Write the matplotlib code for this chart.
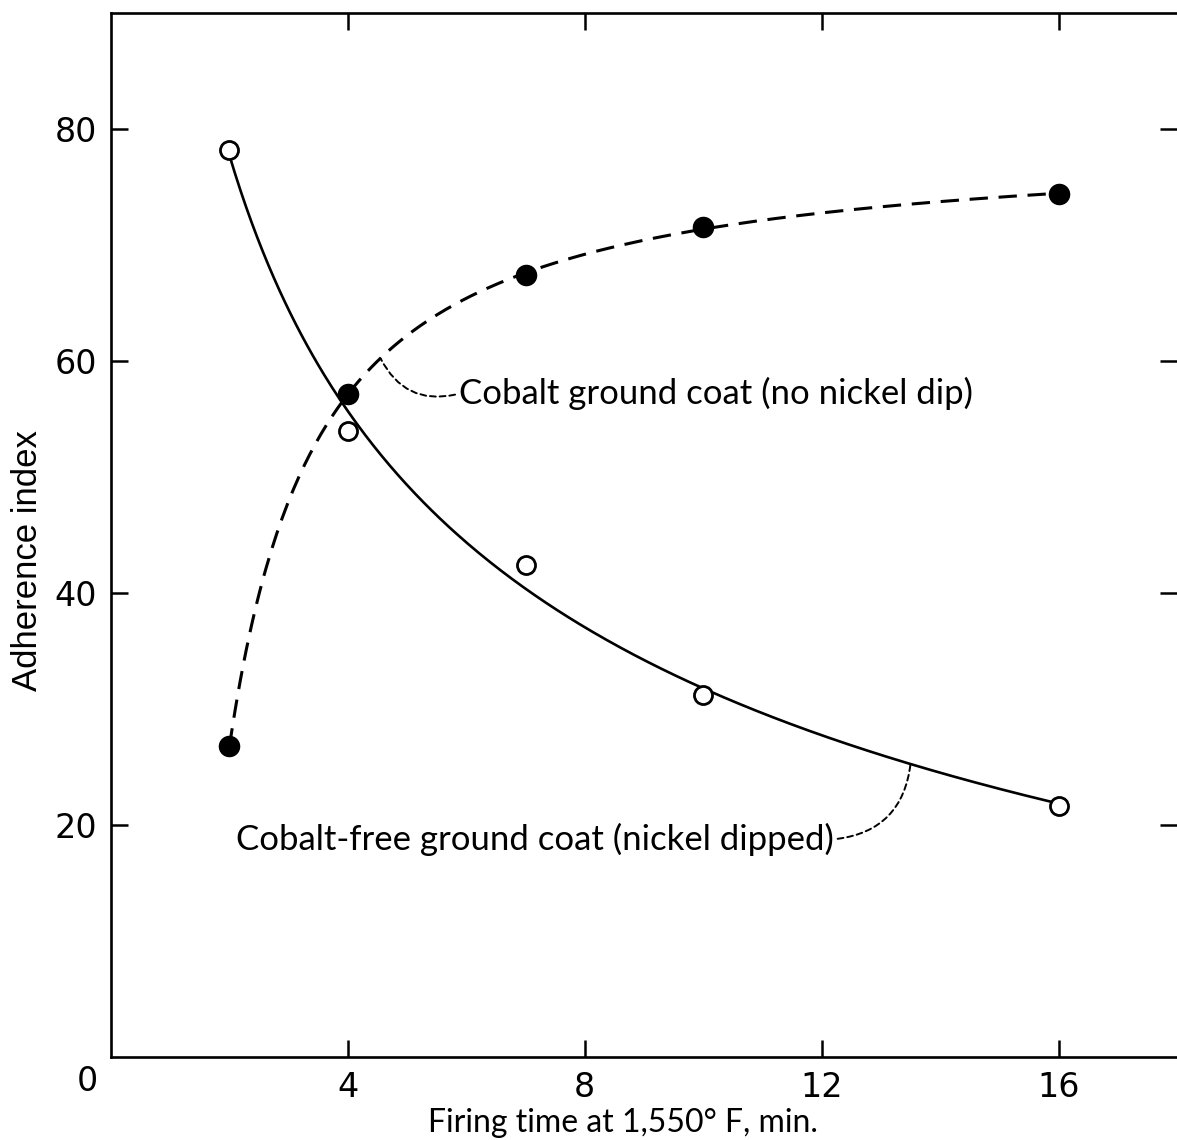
import matplotlib
matplotlib.use("Agg")
import matplotlib.pyplot as plt
import numpy as np

# Adherence index vs firing time
time_min = [2, 4, 7, 10, 16]
cobalt_free = [78.2, 54.0, 42.4, 31.2, 21.7]   # open circles, nickel dipped
cobalt = [26.8, 57.2, 67.4, 71.6, 74.4]        # filled circles, no nickel dip

label_font = ['Lato', 'DejaVu Sans']

fig = plt.figure(figsize=(11.77, 11.40), dpi=100)
ax = fig.add_axes([0.0943, 0.0724, 0.9057, 0.9162])

# smooth guide curves fitted to the points
xs = np.linspace(min(time_min), max(time_min), 300)
c1 = np.polyfit(np.log(time_min), cobalt_free, 2)
c2 = np.polyfit(1.0 / np.array(time_min), cobalt, 2)
free_fit = lambda x: np.polyval(c1, np.log(x))
cob_fit = lambda x: np.polyval(c2, 1.0 / np.asarray(x))

ax.plot(xs, free_fit(xs), color='black', lw=1.9, zorder=2)
ax.plot(xs, cob_fit(xs), color='black', lw=2.2, ls=(0, (6, 3.5)), zorder=2)

ax.plot(time_min, cobalt_free, 'o', ms=13, mfc='white', mec='black', mew=2, zorder=3)
ax.plot(time_min, cobalt, 'o', ms=14.5, color='black', zorder=3)

leader = dict(arrowstyle='-', color='black', lw=1.4, ls=(0, (3, 2)))
x1 = 4.55
ax.annotate('Cobalt ground coat (no nickel dip)', xy=(x1, float(cob_fit(x1))),
            xytext=(5.88, 57.2), fontsize=25, family=label_font,
            ha='left', va='center',
            arrowprops=dict(connectionstyle='arc3,rad=-0.4', relpos=(0, 0.5),
                            shrinkA=1, shrinkB=0, **leader))
x2 = 13.5
ax.annotate('Cobalt-free ground coat (nickel dipped)', xy=(x2, float(free_fit(x2))),
            xytext=(12.2, 18.8), fontsize=25, family=label_font,
            ha='right', va='center',
            arrowprops=dict(connectionstyle='arc3,rad=0.4', relpos=(1, 0.5),
                            shrinkA=1, shrinkB=0, **leader))

ax.set_xlim(0, 18)
ax.set_ylim(0, 90)
ax.set_xticks([4, 8, 12, 16])
ax.set_yticks([20, 40, 60, 80])
ax.tick_params(direction='in', length=12, width=1.8, labelsize=24, pad=10,
               top=True, right=True)
ax.spines['right'].set_visible(False)
for s in ['left', 'top', 'bottom']:
    ax.spines[s].set_linewidth(1.9)

ax.annotate('0', xy=(0, 0), xytext=(-17, -17), textcoords='offset points',
            ha='center', va='center', fontsize=24)

ax.set_xlabel('Firing time at 1,550° F, min.', fontsize=23, family=label_font)
ax.xaxis.set_label_coords(0.48, -0.048)
ax.set_ylabel('Adherence index', fontsize=25, family=['Liberation Sans', 'DejaVu Sans'])
ax.yaxis.set_label_coords(-0.063, 0.476)

fig.savefig('out.png', dpi=100)
